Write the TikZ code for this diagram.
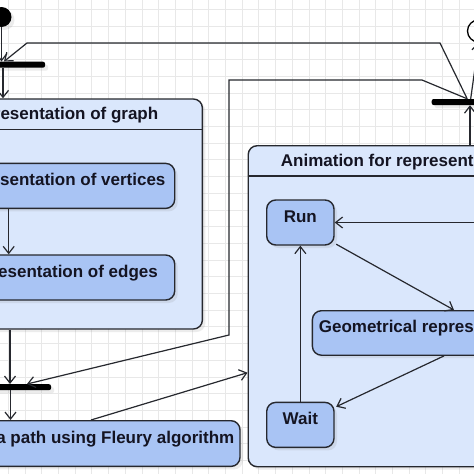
\documentclass[tikz,border=0pt]{standalone}
\usepackage{fontspec}
\setmainfont{Liberation Sans}
\usetikzlibrary{positioning,shapes,arrows.meta,shadows}

\definecolor{fondcadre}{RGB}{218,231,252}
\definecolor{fondetat}{RGB}{169,196,244}
\definecolor{trait}{RGB}{38,40,46}
\definecolor{texte}{RGB}{20,20,34}
\definecolor{grille}{RGB}{232,232,232}

\begin{document}
\begin{tikzpicture}[x=1pt, y=-1pt,
    every node/.style={font=\fontsize{17}{20}\selectfont\bfseries, text=texte, inner sep=0pt},
    ombre/.style={drop shadow={opacity=.15, shadow xshift=3pt, shadow yshift=-3pt}},
    cadre/.style={draw=trait, fill=fondcadre, line width=1.4pt, rounded corners=9pt, anchor=north west, ombre},
    etat/.style={draw=trait, fill=fondetat, line width=1.4pt, rounded corners=9pt, anchor=north west,
        minimum height=45pt, text height=11pt, text depth=11pt, ombre},
    titre/.style={text height=12pt, text depth=0pt},
    barre/.style={fill=black, rounded corners=2pt, minimum width=80pt, minimum height=6pt, ombre},
    flux/.style={draw=trait, line width=1.2pt, -{Straight Barb[length=7pt,width=11pt]}}]
        \clip (0,0) rectangle (474,474);
        \fill[white] (0,0) rectangle (474,474);

        % Grille de fond
        \foreach \i in {0,...,28} {
            \draw[grille, line width=.8pt] (8.3+16.7*\i,0) -- ++(0,474);
            \draw[grille, line width=.8pt] (0,9.5+16.7*\i) -- ++(474,0);
        }

        % Debut, fin et barres
        \node[circle, fill=black, minimum size=20pt, ombre] (debut) at (1.5,17) {};
        \node[circle, draw=black, line width=1.3pt, minimum size=22pt] (fin) at (478.5,31) {};
        \node[barre] (barre1) at (5,64.7) {};
        \node[barre] (barre2) at (11,387.2) {};
        \node[barre] (barre3) at (471.7,102) {};

        % Representation du graphe
        \node[cadre, minimum width=284.7pt, minimum height=230pt] (graphe) at (-83,98.3) {};
        \draw[trait, line width=1.4pt] ([yshift=-31pt]graphe.north west) -- ([yshift=-31pt]graphe.north east);
        \node[titre] (titregraphe) at ([yshift=-15.5pt]graphe.north) {Representation of graph};
        \node[etat, minimum width=232pt] (sommets) at (-58,162.7) {Representation of vertices};
        \node[etat, minimum width=232pt] (aretes) at (-58,254.3) {Representation of edges};

        % Chemin
        \node[etat, minimum width=290pt, minimum height=45.7pt] (fleury) at (-50.7,420) {Find a path using Fleury algorithm};

        % Animation
        \node[cadre, minimum width=445pt, minimum height=321pt] (anim) at (247.5,145) {};
        \draw[trait, line width=1.4pt] ([yshift=-31pt]anim.north west) -- ([yshift=-31pt]anim.north east);
        \node[titre, anchor=west] (titreanim) at ([xshift=33.2pt, yshift=-15.5pt]anim.north west) {Animation for representation of Euler path};
        \node[etat, minimum width=67.3pt] (run) at (266,199.3) {Run};
        \node[etat, minimum width=234pt, minimum height=44.5pt] (geo) at (311.7,310) {Geometrical representation};
        \node[etat, minimum width=67.3pt] (wait) at (266,401.7) {Wait};

        % Transitions
        \draw[flux] (debut.south) -- (debut |- barre1.north);
        \draw[flux] ([xshift=-2pt]barre1.south) -- ([xshift=-2pt]barre1.south |- graphe.north);
        \draw[flux] ([xshift=-50pt]sommets.south) -- ([xshift=-50pt]aretes.north);
        \draw[flux] ([xshift=-1pt]barre2.north |- graphe.south) -- ([xshift=-1pt]barre2.north);
        \draw[flux] ([xshift=-0.5pt]barre2.south) -- ([xshift=-0.5pt]barre2.south |- fleury.north);
        \draw[flux] ([xshift=-4pt]fleury.north) -- ([yshift=-66.5pt]anim.west);
        \draw[flux] ([xshift=-1.7pt]barre3.south |- anim.north) -- ([xshift=-1.7pt]barre3.south);
        \draw[flux] ([xshift=-4.5pt]barre3.north) -- (440,43) -- (27,43) -- ([xshift=-1pt]barre1.north);
        \draw[flux] ([xshift=-4.5pt]barre3.north) -- (422,80) -- (229,80) -- (229,335) -- ([xshift=16pt]barre2.north);
        \draw[flux] ([xshift=-1pt]barre3.north) -- (fin.south);
        \draw[flux] (geo.east) -- ++(20,0) |- (run.east);
        \draw[flux] ([xshift=1.5pt, yshift=1.5pt]run.south east) -- ([xshift=24.6pt]geo.north);
        \draw[flux] ([xshift=14.6pt]geo.south) -- ([xshift=1.5pt, yshift=-5pt]wait.north east);
        \draw[flux] (wait.north) -- (run.south);
    \end{tikzpicture}
\end{document}
